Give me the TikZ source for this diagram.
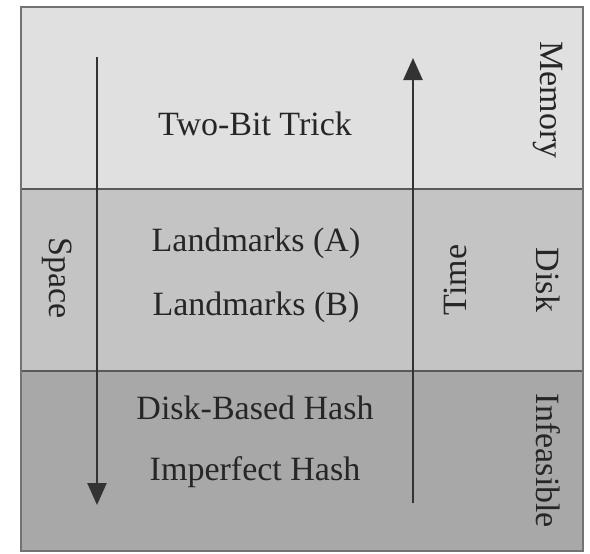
\documentclass[tikz,border=0pt]{standalone}
\usepackage{fontspec}
\setmainfont{Liberation Serif}
\usetikzlibrary{arrows.meta}
\definecolor{bandtop}{gray}{0.88}
\definecolor{bandmid}{gray}{0.77}
\definecolor{bandlow}{gray}{0.66}
\begin{document}
\begin{tikzpicture}[x=1pt,y=-1pt,
  lbl/.style={text=black!85,font=\fontsize{34}{38}\selectfont,inner sep=0pt},
  side/.style={lbl,rotate=-90},
  axis/.style={line width=2.5pt,black!80,-{Triangle[width=19pt,length=22pt]}}]
\useasboundingbox (0,0) rectangle (590,554);
% bands
\fill[bandtop] (21,7) rectangle (583,189);
\fill[bandmid] (21,189) rectangle (583,371);
\fill[bandlow] (21,371) rectangle (583,551);
\foreach \v in {189,371} {\draw[black!65,line width=2pt] (21,\v)--(583,\v);}
\draw[black!55,line width=2pt] (21,7) rectangle (583,551);
% methods
\node[lbl] (twobit) at (255,124) {Two-Bit Trick};
\node[lbl] (landa) at (256,243) {Landmarks (A)};
\node[lbl] (landb) at (256,307) {Landmarks (B)};
\node[lbl] (diskhash) at (255,408) {Disk-Based Hash};
\node[lbl] (imphash) at (255,472) {Imperfect Hash};
% storage levels
\node[side] (memory) at (548,100) {Memory};
\node[side] (disk) at (548,280) {Disk};
\node[side] (infeasible) at (548,461) {Infeasible};
% axes
\coordinate (spacetop) at (97,57);
\coordinate (spacebot) at (97,505);
\draw[axis] (spacetop) -- (spacebot);
\node[side] (space) at (57,278) {Space};
\coordinate (timebot) at (413,503);
\coordinate (timetop) at (413,58);
\draw[axis] (timebot) -- (timetop);
\node[lbl,rotate=90] (time) at (455,280) {Time};
\end{tikzpicture}
\end{document}
